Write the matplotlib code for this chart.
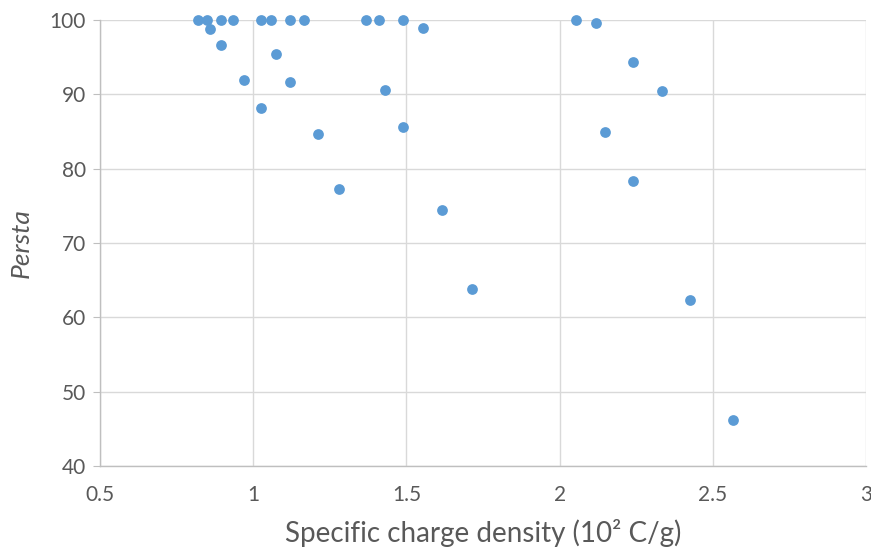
import matplotlib.pyplot as plt

# Data
charge_density = [0.82, 0.85, 0.86, 0.895, 0.895, 0.934, 0.97, 1.025, 1.025,
                  1.058, 1.074, 1.12, 1.12, 1.166, 1.21, 1.28, 1.368, 1.41,
                  1.43, 1.49, 1.49, 1.554, 1.616, 1.714, 2.053, 2.119, 2.24,
                  2.148, 2.334, 2.24, 2.426, 2.566]
persta = [100, 100, 98.8, 100, 96.6, 100, 91.9, 100, 88.2,
          100, 95.4, 100, 91.6, 100, 84.6, 77.3, 100, 100,
          90.6, 100, 85.6, 98.9, 74.4, 63.8, 100, 99.6, 94.3,
          85.0, 90.5, 78.3, 62.3, 46.2]

x_ticks = [0.5, 1, 1.5, 2, 2.5, 3]
x_tick_labels = ['0.5', '1', '1.5', '2', '2.5', '3']
y_ticks = [40, 50, 60, 70, 80, 90, 100]

plt.rcParams['font.family'] = ['Lato', 'DejaVu Sans']

fig = plt.figure(figsize=(8.71, 5.48), dpi=100)
ax = fig.add_axes([0.1148, 0.1496, 0.8795, 0.8139])

ax.scatter(charge_density, persta, s=60, color='#5B9BD5', zorder=3,
           linewidths=0, clip_on=False)

ax.set_xlim(0.5, 3)
ax.set_ylim(40, 100)
ax.set_xticks(x_ticks)
ax.set_xticklabels(x_tick_labels)
ax.set_yticks(y_ticks)

ax.grid(True, color='#D9D9D9', linewidth=1)
ax.set_axisbelow(True)
for side in ['top', 'right']:
    ax.spines[side].set_visible(False)
for side in ['left', 'bottom']:
    ax.spines[side].set_color('#BFBFBF')
    ax.spines[side].set_linewidth(1)

ax.tick_params(axis='y', length=5, color='#BFBFBF', labelsize=15,
               labelcolor='#595959', pad=5)
ax.tick_params(axis='x', length=0, labelsize=15, labelcolor='#595959', pad=14)

ax.set_xlabel('Specific charge density (10² C/g)', fontsize=20,
              color='#595959', labelpad=10)
ax.set_ylabel('Persta', fontsize=19, color='#595959', style='italic',
              labelpad=12)

fig.savefig('out.png', dpi=100)
